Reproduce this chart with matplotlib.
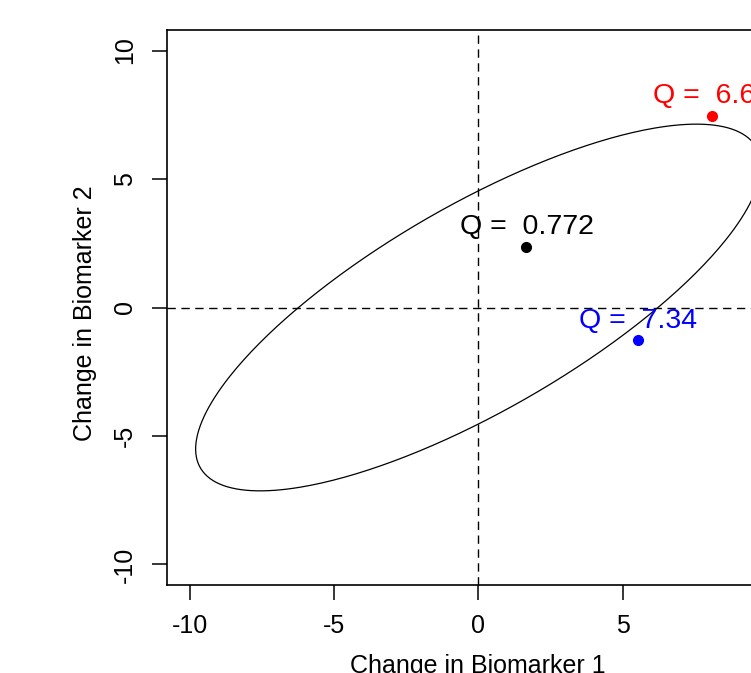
import numpy as np
import matplotlib
matplotlib.use("Agg")
import matplotlib.pyplot as plt

plt.rcParams["font.family"] = ["Liberation Sans", "DejaVu Sans"]

# ---------------------------------------------------------------------------
# Data
# ---------------------------------------------------------------------------
# covariance of the two biomarker changes and 95% chi-square level (df = 2)
COV = np.array([[16.0, 9.0],
                [9.0, 8.5]])
CHI2_95 = 5.991

point_x = [1.67, 5.52, 8.11]
point_y = [2.36, -1.27, 7.47]
point_q = ["0.772", "7.34", "6.62"]
point_colors = ["black", "blue", "red"]

ticks = [-10, -5, 0, 5, 10]
XLABEL = "Change in Biomarker 1"
YLABEL = "Change in Biomarker 2"

W, H = 751, 673
fig = plt.figure(figsize=(W / 100, H / 100), dpi=100)
# axes extend beyond the right edge, as in the (cropped) reference
left, right, top, bottom = 166.5, 790.0, 30.0, 585.0
ax = fig.add_axes([left / W, (H - bottom) / H, (right - left) / W, (bottom - top) / H])

# ellipse of constant Mahalanobis distance
t = np.linspace(0, 2 * np.pi, 400)
L = np.linalg.cholesky(COV)
circle = np.vstack([np.cos(t), np.sin(t)])
ell = np.sqrt(CHI2_95) * L @ circle
ax.plot(ell[0], ell[1], color="black", lw=0.9)

ax.axhline(0, color="black", lw=1.0, linestyle=(0, (6, 4)))
ax.axvline(0, color="black", lw=1.0, linestyle=(0, (6, 4)))

for x, y, q, c in zip(point_x, point_y, point_q, point_colors):
    ax.plot(x, y, "o", color=c, markersize=7, clip_on=False)
    ax.text(x, y + 0.49, f"Q =  {q}", color=c, fontsize=20.5,
            ha="center", va="baseline", clip_on=False)

ax.set_xlim(-10.8, 10.8)
ax.set_ylim(-10.8, 10.8)
ax.set_xticks(ticks)
ax.set_yticks(ticks)
ax.set_xticklabels([str(v) for v in ticks], fontsize=18)
ax.set_yticklabels([str(v) for v in ticks], fontsize=18, rotation=90, va="center")
ax.tick_params(direction="out", length=11, width=1.1, pad=10)

for s in ax.spines.values():
    s.set_linewidth(1.2)

ax.set_xlabel(XLABEL, fontsize=18)
ax.xaxis.set_label_coords(0.5, -0.125)
ax.xaxis.label.set_va("top")
ax.set_ylabel(YLABEL, fontsize=18)
ax.yaxis.set_label_coords(-0.131, 0.49)
ax.yaxis.label.set_va("center")

fig.savefig("out.png", dpi=100)
